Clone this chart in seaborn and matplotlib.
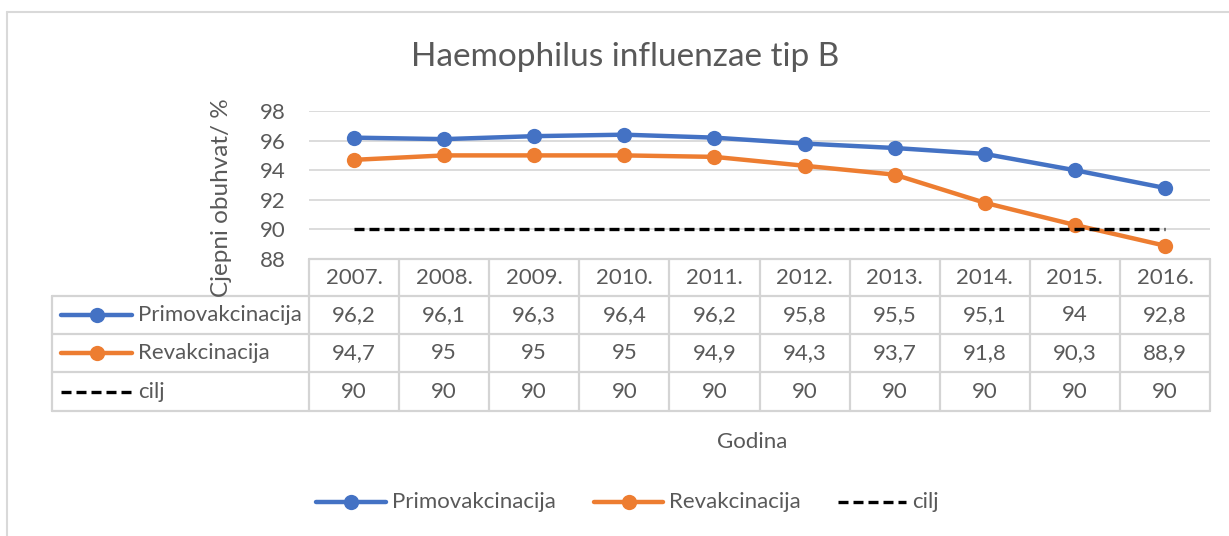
import matplotlib
matplotlib.use("Agg")
import matplotlib.pyplot as plt
from matplotlib.lines import Line2D
import seaborn as sns
import pandas as pd

# ---- data ----
years = ["2007.", "2008.", "2009.", "2010.", "2011.", "2012.", "2013.", "2014.", "2015.", "2016."]
primo = [96.2, 96.1, 96.3, 96.4, 96.2, 95.8, 95.5, 95.1, 94.0, 92.8]
revak = [94.7, 95.0, 95.0, 95.0, 94.9, 94.3, 93.7, 91.8, 90.3, 88.9]
cilj = [90, 90, 90, 90, 90, 90, 90, 90, 90, 90]
series_names = ["Primovakcinacija", "Revakcinacija", "cilj"]
yticks = [88, 90, 92, 94, 96, 98]
title = "Haemophilus influenzae tip B"
ylabel = "Cjepni obuhvat/ %"
xlabel = "Godina"

sns.set_theme(style="white")
plt.rcParams["font.family"] = ["Lato", "DejaVu Sans"]

W, H = 1229, 536
fig = plt.figure(figsize=(W / 100, H / 100), dpi=100)

def fx(x):
    return x / W

def fy(y):
    return 1 - y / H

TXT = "#595959"
GRID = "#d9d9d9"
BLUE = "#4472C4"
ORANGE = "#ED7D31"
FS = 16
DASH = (0, (3.0, 1.5))

# plot area
L, R, T, B = 309, 1210, 111, 259
ax = fig.add_axes([fx(L), fy(B), fx(R) - fx(L), fy(T) - fy(B)])

df = pd.DataFrame({"Godina": years, "primo": primo, "revak": revak, "cilj": cilj})
sns.lineplot(data=df, x="Godina", y="primo", ax=ax, color=BLUE, lw=3.2,
             marker="o", markersize=11, markeredgewidth=0, sort=False)
sns.lineplot(data=df, x="Godina", y="revak", ax=ax, color=ORANGE, lw=3.2,
             marker="o", markersize=11, markeredgewidth=0, sort=False)
sns.lineplot(data=df, x="Godina", y="cilj", ax=ax, color="black", lw=2.4,
             linestyle=DASH, sort=False)

ax.set_xlim(-0.5, len(years) - 0.5)
ax.set_ylim(88, 98)
ax.set_yticks(yticks)
ax.set_yticklabels([str(t) for t in yticks], color=TXT, fontsize=FS)
ax.tick_params(axis="y", length=0, pad=16.5)
ax.set_xticks([])
ax.set_xlabel("")
ax.set_ylabel("")
for s in ax.spines.values():
    s.set_visible(False)
ax.grid(False)
for t in yticks[1:]:
    ax.axhline(t, color=GRID, lw=1.3, zorder=0)
ax.patch.set_alpha(0)

# title, axis labels
fig.text(fx(625), fy(57), title, ha="center", va="center", fontsize=24, color=TXT)
fig.text(fx(221), fy(198), ylabel, ha="center", va="center", rotation=90,
         fontsize=17.5, color=TXT)
fig.text(fx(752), fy(442), xlabel, ha="center", va="center", fontsize=FS, color=TXT)

# outer chart border (left/top)
fig.add_artist(Line2D([fx(7), fx(7)], [fy(12), 0], transform=fig.transFigure,
                      color=GRID, lw=1.5))
fig.add_artist(Line2D([fx(7), 1], [fy(12), fy(12)], transform=fig.transFigure,
                      color=GRID, lw=1.5))

# data table
TL = 52
rows_y = [259, 296, 334, 372, 411]
ncol = len(years)
colw = (R - L) / ncol
col_x = [L + i * colw for i in range(ncol + 1)]
TBL = "#d4d4d4"

def hline(x0, x1, y):
    fig.add_artist(Line2D([fx(x0), fx(x1)], [fy(y), fy(y)], transform=fig.transFigure,
                          color=TBL, lw=1.6))

def vline(x, y0, y1):
    fig.add_artist(Line2D([fx(x), fx(x)], [fy(y0), fy(y1)], transform=fig.transFigure,
                          color=TBL, lw=1.6))

hline(L, R, rows_y[0])
for y in rows_y[1:]:
    hline(TL, R, y)
for x in col_x:
    vline(x, rows_y[0], rows_y[-1])
vline(TL, rows_y[1], rows_y[-1])

def fmt(v):
    return f"{v:g}".replace(".", ",")

for i, yr in enumerate(years):
    cx = (col_x[i] + col_x[i + 1]) / 2
    fig.text(fx(cx), fy((rows_y[0] + rows_y[1]) / 2), yr, ha="center", va="center",
             fontsize=FS, color=TXT)
for r, vals in enumerate([primo, revak, cilj]):
    cy = (rows_y[r + 1] + rows_y[r + 2]) / 2
    for i, v in enumerate(vals):
        cx = (col_x[i] + col_x[i + 1]) / 2
        fig.text(fx(cx), fy(cy), fmt(v), ha="center", va="center", fontsize=FS, color=TXT)

styles = [
    dict(color=BLUE, lw=3.2, marker="o", markersize=11, markeredgewidth=0),
    dict(color=ORANGE, lw=3.2, marker="o", markersize=11, markeredgewidth=0),
    dict(color="black", lw=2.4, linestyle=DASH),
]

def legend_key(x0, x1, y, st, name):
    fig.add_artist(Line2D([fx(x0), fx(x1)], [fy(y), fy(y)], transform=fig.transFigure,
                          solid_capstyle="round",
                          **{k: v for k, v in st.items() if k not in ("marker", "markersize", "markeredgewidth")}))
    if "marker" in st:
        fig.add_artist(Line2D([fx((x0 + x1) / 2)], [fy(y)], transform=fig.transFigure,
                              color=st["color"], marker="o", markersize=st["markersize"],
                              markeredgewidth=0, lw=0))
    fig.text(fx(x1 + 6), fy(y), name, ha="left", va="center", fontsize=FS, color=TXT)

for r, (name, st) in enumerate(zip(series_names, styles)):
    cy = (rows_y[r + 1] + rows_y[r + 2]) / 2
    legend_key(61, 132, cy, st, name)

# bottom legend
leg_pos = [(316, 386), (594, 663), (838, 906)]
for (x0, x1), name, st in zip(leg_pos, series_names, styles):
    legend_key(x0, x1, 502, st, name)

fig.savefig("out.png", dpi=100)
